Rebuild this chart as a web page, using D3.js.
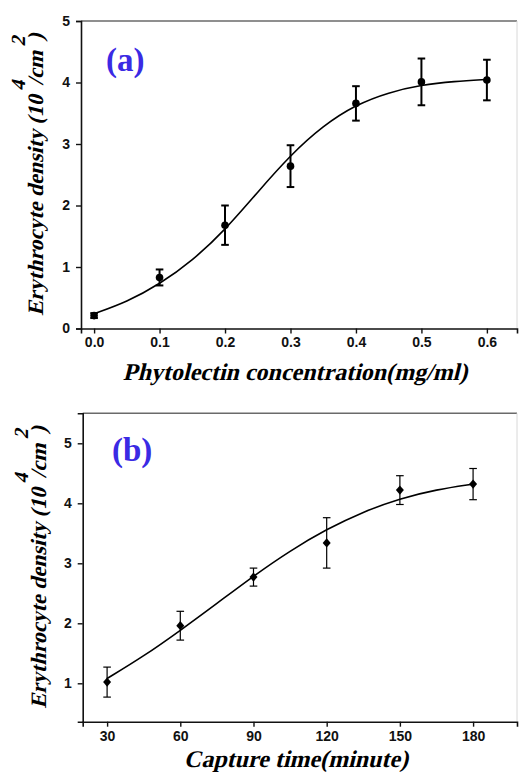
<!DOCTYPE html>
<html>
<head>
<meta charset="utf-8">
<script src="https://cdn.jsdelivr.net/npm/d3@7"></script>
<style>
  body { margin: 0; background: #fff; }
  .tick text { font-family: "Liberation Sans", Arial, sans-serif; font-weight: bold; }
</style>
</head>
<body>
<div id="chart"></div>
<script>
// panel (a) - phytolectin concentration
var concX = [0, 0.1, 0.2, 0.3, 0.4, 0.5, 0.6];
var concY = [0.21, 0.83, 1.68, 2.64, 3.66, 4.01, 4.04];
var concErr = [0.04, 0.13, 0.32, 0.34, 0.28, 0.38, 0.33];
// fitted curve
var concFitX = [0, 0.05, 0.1, 0.15, 0.2, 0.25, 0.3, 0.35, 0.4, 0.45, 0.5, 0.55, 0.6];
var concFitY = [0.24, 0.43, 0.72, 1.1, 1.6, 2.22, 2.82, 3.3, 3.64, 3.84, 3.96, 4.02, 4.05];
var concTicks = [0, 0.1, 0.2, 0.3, 0.4, 0.5, 0.6];
var densTicksA = [0, 1, 2, 3, 4, 5];

// panel (b) - capture time
var timeX = [30, 60, 90, 120, 150, 180];
var timeY = [1.02, 1.96, 2.77, 3.34, 4.22, 4.32];
var timeErr = [0.25, 0.24, 0.15, 0.42, 0.24, 0.26];
var timeFitX = [30, 45, 60, 75, 90, 105, 120, 135, 150, 165, 180];
var timeFitY = [1.08, 1.45, 1.88, 2.33, 2.79, 3.21, 3.57, 3.86, 4.08, 4.23, 4.32];
var timeTicks = [30, 60, 90, 120, 150, 180];
var densTicksB = [1, 2, 3, 4, 5];

var W = 519, H = 772;
var svg = d3.select("#chart").append("svg")
  .attr("width", W)
  .attr("height", H);

var serif = "Liberation Serif";
// bold italic face is faked by skewing the bold one
var slant = "skewX(-14)";

function panel(opt) {
  var x = d3.scaleLinear().domain(opt.xDomain).range([opt.left, opt.right]);
  var y = d3.scaleLinear().domain(opt.yDomain).range([opt.bottom, opt.top]);
  var g = svg.append("g");

  // frame: top and right in grey
  g.append("line")
    .attr("x1", opt.left).attr("x2", opt.right)
    .attr("y1", opt.top).attr("y2", opt.top)
    .attr("stroke", "#6a6a6a").attr("stroke-width", 1.5);
  g.append("line")
    .attr("x1", opt.right).attr("x2", opt.right)
    .attr("y1", opt.top).attr("y2", opt.bottom)
    .attr("stroke", "#d8d8d8").attr("stroke-width", 1);

  var xAxis = g.append("g")
    .attr("transform", "translate(0," + opt.bottom + ")")
    .call(d3.axisBottom(x).tickValues(opt.xTicks).tickFormat(opt.xFormat).tickSize(5).tickPadding(4));
  var yAxis = g.append("g")
    .attr("transform", "translate(" + opt.left + ",0)")
    .call(d3.axisLeft(y).tickValues(opt.yTicks).tickFormat(d3.format("d")).tickSize(5).tickPadding(6));
  [xAxis, yAxis].forEach(function(a) {
    a.select(".domain").attr("stroke", "#111").attr("stroke-width", 1.6);
    a.selectAll(".tick line").attr("stroke", "#111").attr("stroke-width", 1.4);
    a.selectAll(".tick text").attr("fill", "#111").style("font-size", "14px");
  });

  // fitted curve
  var line = d3.line()
    .x(function(d, i) { return x(opt.fitX[i]); })
    .y(function(d) { return y(d); })
    .curve(d3.curveBasis);
  g.append("path")
    .datum(opt.fitY)
    .attr("d", line)
    .attr("fill", "none")
    .attr("stroke", "#000")
    .attr("stroke-width", 1.6);

  // error bars
  var eb = g.selectAll(".eb").data(opt.ys).enter().append("g");
  eb.append("line")
    .attr("x1", function(d, i) { return x(opt.xs[i]); })
    .attr("x2", function(d, i) { return x(opt.xs[i]); })
    .attr("y1", function(d, i) { return y(d - opt.err[i]); })
    .attr("y2", function(d, i) { return y(d + opt.err[i]); })
    .attr("stroke", "#000").attr("stroke-width", opt.ebWidth);
  [-1, 1].forEach(function(s) {
    eb.append("line")
      .attr("x1", function(d, i) { return x(opt.xs[i]) - 3.8; })
      .attr("x2", function(d, i) { return x(opt.xs[i]) + 3.8; })
      .attr("y1", function(d, i) { return y(d + s * opt.err[i]); })
      .attr("y2", function(d, i) { return y(d + s * opt.err[i]); })
      .attr("stroke", "#000").attr("stroke-width", opt.ebWidth);
  });

  // markers
  if (opt.marker == "circle") {
    g.selectAll(".pt").data(opt.ys).enter().append("circle")
      .attr("cx", function(d, i) { return x(opt.xs[i]); })
      .attr("cy", function(d) { return y(d); })
      .attr("r", 3.8)
      .attr("fill", "#000");
  } else {
    g.selectAll(".pt").data(opt.ys).enter().append("path")
      .attr("d", function(d, i) {
        var cx = x(opt.xs[i]), cy = y(d);
        return "M" + cx + "," + (cy - 4.6) + "L" + (cx + 4) + "," + cy +
          "L" + cx + "," + (cy + 4.6) + "L" + (cx - 4) + "," + cy + "Z";
      })
      .attr("fill", "#000");
  }

  // panel label
  g.append("text")
    .attr("x", opt.tagX).attr("y", opt.tagY)
    .attr("font-family", serif)
    .attr("font-weight", "bold")
    .attr("font-size", 33)
    .attr("fill", "#3a2ae4")
    .text(opt.tag);

  // x title
  g.append("text")
    .attr("transform", "translate(" + ((opt.left + opt.right) / 2 - 4) + "," + opt.xTitleY + ") " + slant)
    .attr("text-anchor", "middle")
    .attr("font-family", serif)
    .attr("font-weight", "bold")
    .attr("font-size", 24)
    .attr("fill", "#000")
    .text(opt.xTitle);

  // y title with superscripts
  var yt = g.append("text")
    .attr("transform", "translate(" + opt.yTitleX + "," + (opt.top + opt.bottom) / 2 + ") rotate(-90) " + slant)
    .attr("text-anchor", "middle")
    .attr("font-family", serif)
    .attr("font-weight", "bold")
    .attr("font-size", 22)
    .attr("fill", "#000");
  yt.append("tspan").text("Erythrocyte density (10");
  yt.append("tspan").attr("dy", -18).attr("font-size", 20).text("4");
  yt.append("tspan").attr("dy", 18).text("/cm");
  yt.append("tspan").attr("dy", -18).attr("font-size", 20).text("2");
  yt.append("tspan").attr("dy", 18).text(")");
}

panel({
  xs: concX, ys: concY, err: concErr, fitX: concFitX, fitY: concFitY,
  xDomain: [-0.02, 0.646], yDomain: [0, 5],
  left: 81, right: 517, top: 21, bottom: 328.5,
  xTicks: concTicks, yTicks: densTicksA, xFormat: d3.format(".1f"),
  marker: "circle", ebWidth: 2,
  tag: "(a)", tagX: 106, tagY: 71,
  xTitle: "Phytolectin concentration(mg/ml)", xTitleY: 380,
  yTitleX: 43
});

panel({
  xs: timeX, ys: timeY, err: timeErr, fitX: timeFitX, fitY: timeFitY,
  xDomain: [20, 198], yDomain: [0.36, 5.5],
  left: 82.7, right: 517, top: 413.3, bottom: 721.7,
  xTicks: timeTicks, yTicks: densTicksB, xFormat: d3.format("d"),
  marker: "diamond", ebWidth: 1.2,
  tag: "(b)", tagX: 112, tagY: 461,
  xTitle: "Capture time(minute)", xTitleY: 767,
  yTitleX: 46
});
</script>
</body>
</html>
